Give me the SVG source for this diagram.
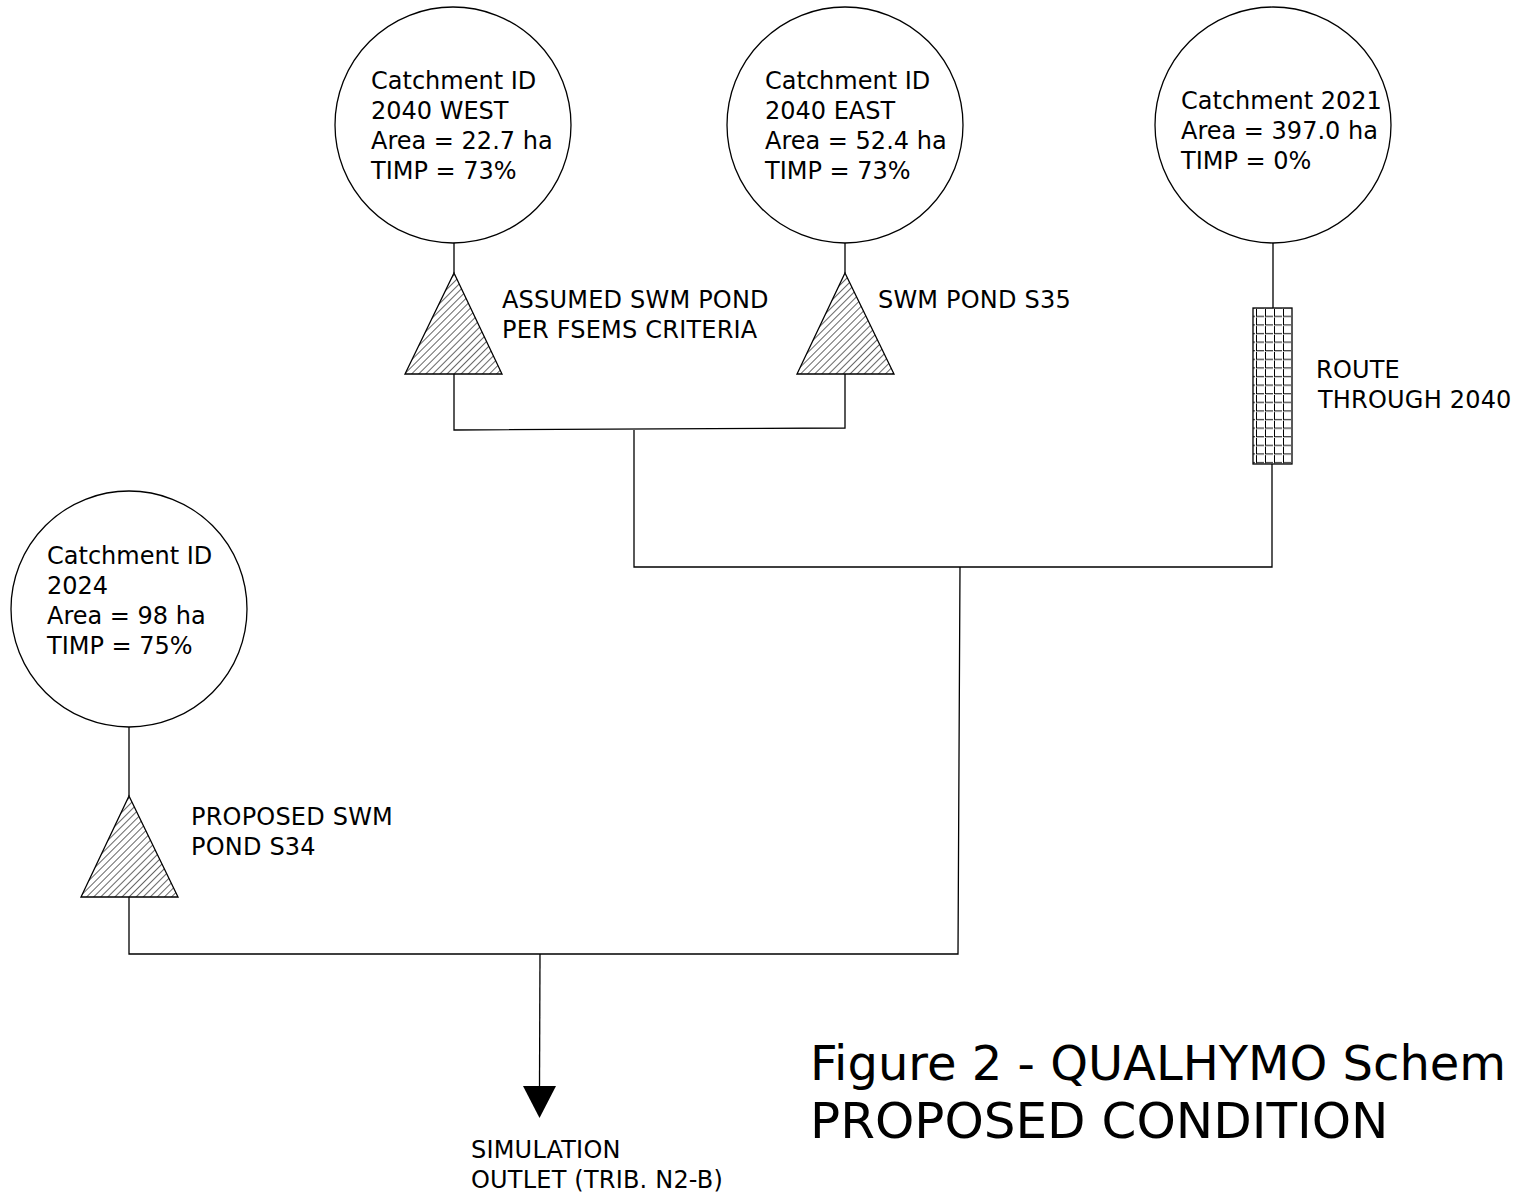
<svg xmlns="http://www.w3.org/2000/svg" width="1517" height="1196" viewBox="0 0 1517 1196">
<style>
.ln{fill:none;stroke:#000;stroke-width:1.3}
.c{fill:#fff;stroke:#000;stroke-width:1.3}
.t{font-family:"DejaVu Sans",Verdana,sans-serif;font-size:24px;fill:#000}
.l{font-family:"DejaVu Sans",Verdana,sans-serif;font-size:24px;fill:#000;letter-spacing:0.2px}
.ti{font-family:"DejaVu Sans",Verdana,sans-serif;font-size:50px;fill:#000}
.pond{fill:url(#hatch);stroke:#000;stroke-width:1.3}
</style>
<defs>
<pattern id="hatch" patternUnits="userSpaceOnUse" width="5" height="5" patternTransform="rotate(45)">
<rect width="5" height="5" fill="#fff"/>
<line x1="0" y1="0" x2="0" y2="5" stroke="#000" stroke-width="1.2"/>
</pattern>
<pattern id="grid" patternUnits="userSpaceOnUse" x="1255" y="309" width="9" height="8.6">
<rect width="9" height="8.6" fill="#fff"/>
<path d="M1.5 0V7.5H9" fill="none" stroke="#000" stroke-width="1"/>
</pattern>
</defs>
<rect width="1517" height="1196" fill="#fff"/>
<g id="connectors">
<path class="ln" d="M454 243V273M454 374V430L845 428V374M845 243V273"/>
<path class="ln" d="M634 430V567H1272V464M1273 243V308"/>
<path class="ln" d="M960 567L958 954H129V897M129 727V796"/>
<path class="ln" d="M540 954L539.5 1086"/>
<polygon points="523,1086 556,1086 539.5,1118" fill="#000"/>
</g>
<g id="c2040west">
<circle class="c" cx="453" cy="125" r="118"/>
<text class="t" x="371" y="89">Catchment ID</text>
<text class="t" x="371" y="119">2040 WEST</text>
<text class="t" x="371" y="149">Area = 22.7 ha</text>
<text class="t" x="371" y="179">TIMP = 73%</text>
</g>
<g id="c2040east">
<circle class="c" cx="845" cy="125" r="118"/>
<text class="t" x="765" y="89">Catchment ID</text>
<text class="t" x="765" y="119">2040 EAST</text>
<text class="t" x="765" y="149">Area = 52.4 ha</text>
<text class="t" x="765" y="179">TIMP = 73%</text>
</g>
<g id="c2021">
<circle class="c" cx="1273" cy="125" r="118"/>
<text class="t" x="1181" y="109">Catchment 2021</text>
<text class="t" x="1181" y="139">Area = 397.0 ha</text>
<text class="t" x="1181" y="169">TIMP = 0%</text>
</g>
<g id="c2024">
<circle class="c" cx="129" cy="609" r="118"/>
<text class="t" x="47" y="564">Catchment ID</text>
<text class="t" x="47" y="594">2024</text>
<text class="t" x="47" y="624">Area = 98 ha</text>
<text class="t" x="47" y="654">TIMP = 75%</text>
</g>
<g id="pondWest">
<polygon class="pond" points="454,273 502,374 405,374"/>
<text class="l" x="502" y="308">ASSUMED SWM POND</text>
<text class="l" x="502" y="338">PER FSEMS CRITERIA</text>
</g>
<g id="pondS35">
<polygon class="pond" points="845,273 894,374 797,374"/>
<text class="l" x="878" y="308">SWM POND S35</text>
</g>
<g id="route">
<rect x="1253" y="308" width="39" height="156" fill="url(#grid)" stroke="#000" stroke-width="1.3"/>
<text class="l" x="1316" y="378">ROUTE</text>
<text class="l" x="1318" y="408">THROUGH 2040</text>
</g>
<g id="pondS34">
<polygon class="pond" points="129,796 178,897 81,897"/>
<text class="l" x="191" y="825">PROPOSED SWM</text>
<text class="l" x="191" y="855">POND S34</text>
</g>
<g id="outlet">
<text class="l" x="471" y="1158">SIMULATION</text>
<text class="l" x="471" y="1188">OUTLET (TRIB. N2-B)</text>
</g>
<g id="title">
<text class="ti" x="810" y="1080" style="font-size:48px">Figure 2 - QUALHYMO Schem</text>
<text class="ti" x="810" y="1138">PROPOSED CONDITION</text>
</g>
</svg>
